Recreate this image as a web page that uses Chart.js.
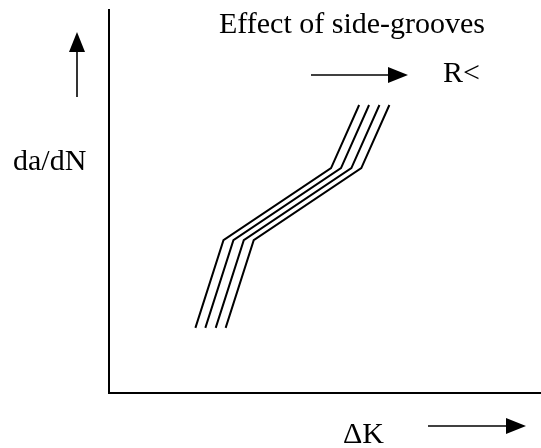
<!DOCTYPE html>
<html>
<head>
<meta charset="utf-8">
<script src="https://cdn.jsdelivr.net/npm/chart.js@4.4.1/dist/chart.umd.min.js"></script>
<style>
  html, body { margin: 0; padding: 0; background: #fff; }
  #wrap { width: 541px; height: 448px; }
</style>
</head>
<body>
<div id="wrap"><canvas id="chart" width="541" height="448"></canvas></div>
<script>
// curves (arbitrary units, 0..10 on both axes)
const curveY = [1.70, 3.99, 5.87, 7.52];
const curveX1 = [2.00, 2.65, 5.14, 5.79];
const curveX2 = [2.23, 2.88, 5.37, 6.02];
const curveX3 = [2.47, 3.12, 5.61, 6.26];
const curveX4 = [2.70, 3.35, 5.84, 6.49];

const titleText = "Effect of side-grooves";
const rText = "R<";
const yLabel = "da/dN";
const xLabel = "\u0394K";

function toPoints(xs, ys) {
  return xs.map((x, i) => ({ x: x, y: ys[i] }));
}

const FONT = '30px "Liberation Serif", "Times New Roman", serif';

function arrow(ctx, x1, y1, x2, y2) {
  // shaft + filled head at (x2, y2)
  const ang = Math.atan2(y2 - y1, x2 - x1);
  const len = 20, half = 8;
  const bx = x2 - len * Math.cos(ang);
  const by = y2 - len * Math.sin(ang);
  ctx.beginPath();
  ctx.moveTo(x1, y1);
  ctx.lineTo(bx, by);
  ctx.stroke();
  ctx.beginPath();
  ctx.moveTo(x2, y2);
  ctx.lineTo(bx + half * Math.sin(ang), by - half * Math.cos(ang));
  ctx.lineTo(bx - half * Math.sin(ang), by + half * Math.cos(ang));
  ctx.closePath();
  ctx.fill();
}

// texts and arrows around the plot
const sketchLabels = {
  id: 'sketchLabels',
  afterDraw(chart) {
    const ctx = chart.ctx;
    const a = chart.chartArea;
    ctx.save();
    ctx.fillStyle = '#000';
    ctx.strokeStyle = '#000';
    ctx.lineWidth = 1.6;
    ctx.font = FONT;
    ctx.textBaseline = 'alphabetic';
    ctx.textAlign = 'left';

    ctx.fillText(titleText, a.left + 110, a.top + 23);
    ctx.fillText(rText, a.left + 334, a.top + 72);
    ctx.fillText(yLabel, 13, a.top + 160);
    ctx.fillText(xLabel, a.left + 234, a.bottom + 50);

    arrow(ctx, a.left - 32, a.top + 87, a.left - 32, a.top + 22);
    arrow(ctx, a.left + 202, a.top + 65, a.left + 299, a.top + 65);
    arrow(ctx, a.left + 319, a.bottom + 33, a.left + 417, a.bottom + 33);
    ctx.restore();
  }
};

const lineStyle = {
  showLine: true,
  borderColor: '#000',
  borderWidth: 2,
  pointRadius: 0,
  tension: 0,
  fill: false
};

const axis = {
  type: 'linear',
  min: 0,
  max: 10,
  ticks: { display: false },
  grid: { display: false },
  border: { display: true, color: '#000', width: 2 }
};

new Chart(document.getElementById('chart'), {
  type: 'scatter',
  data: {
    datasets: [
      Object.assign({ data: toPoints(curveX1, curveY) }, lineStyle),
      Object.assign({ data: toPoints(curveX2, curveY) }, lineStyle),
      Object.assign({ data: toPoints(curveX3, curveY) }, lineStyle),
      Object.assign({ data: toPoints(curveX4, curveY) }, lineStyle)
    ]
  },
  options: {
    responsive: false,
    animation: false,
    devicePixelRatio: 1,
    layout: { padding: { left: 101, top: 10, right: 0, bottom: 47 } },
    plugins: {
      legend: { display: false },
      tooltip: { enabled: false }
    },
    scales: { x: axis, y: axis }
  },
  plugins: [sketchLabels]
});
</script>
</body>
</html>
